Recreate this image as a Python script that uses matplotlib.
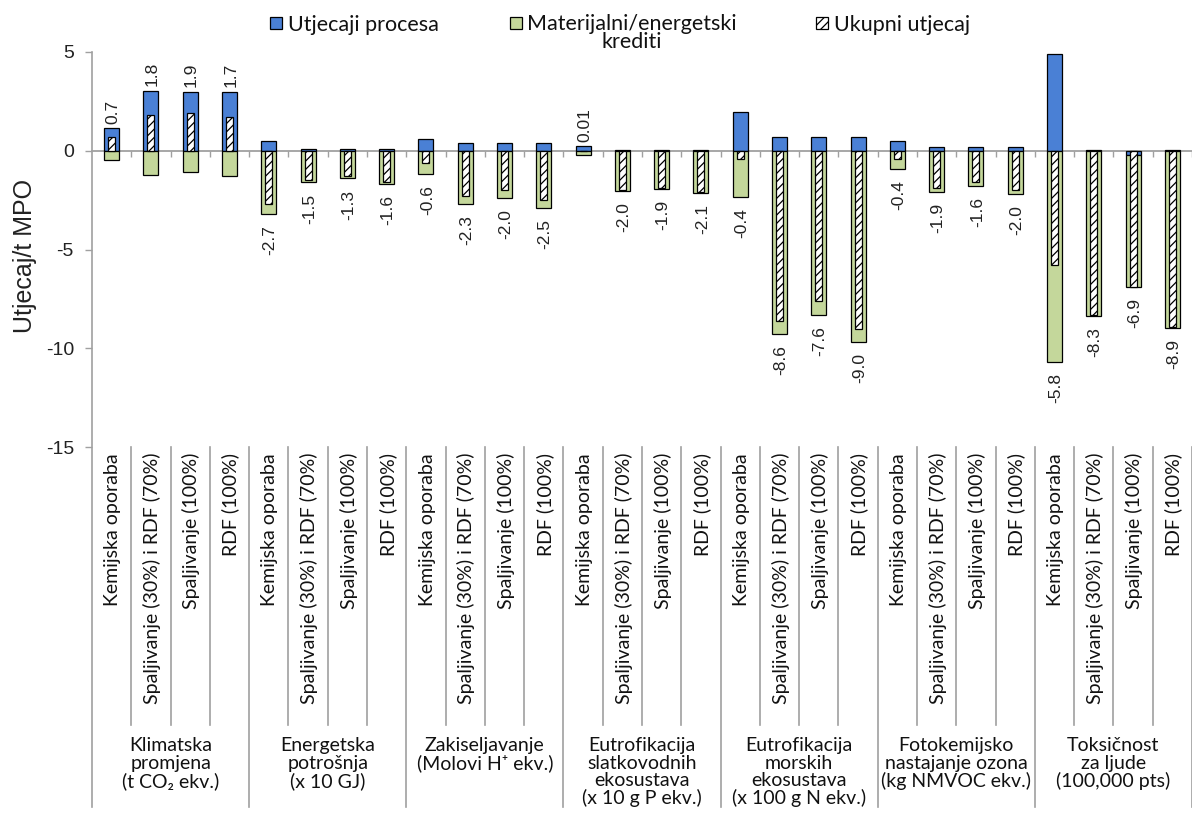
import numpy as np
import matplotlib
matplotlib.use("Agg")
import matplotlib.pyplot as plt
from matplotlib.patches import Rectangle
from matplotlib.lines import Line2D
import matplotlib.transforms as mtransforms

# ---------------- data ----------------
subcategories = ["Kemijska oporaba", "Spaljivanje (30%) i RDF (70%)",
                 "Spaljivanje (100%)", "RDF (100%)"]
groups = ["Klimatska\npromjena\n(t CO\u2082 ekv.)",
          "Energetska\npotrošnja\n(x 10 GJ)",
          "Zakiseljavanje\n(Molovi H\u207a ekv.)",
          "Eutrofikacija\nslatkovodnih\nekosustava\n(x 10 g P ekv.)",
          "Eutrofikacija\nmorskih\nekosustava\n(x 100 g N ekv.)",
          "Fotokemijsko\nnastajanje ozona\n(kg NMVOC ekv.)",
          "Toksičnost\nza ljude\n(100,000 pts)"]
process = [1.15, 3.05, 3.0, 3.0,
           0.5, 0.1, 0.1, 0.1,
           0.6, 0.4, 0.4, 0.4,
           0.22, 0.05, 0.05, 0.05,
           1.95, 0.7, 0.7, 0.7,
           0.5, 0.2, 0.2, 0.2,
           4.9, 0.05, -0.2, 0.05]
credits = [-0.45, -1.25, -1.1, -1.3,
           -3.2, -1.6, -1.4, -1.7,
           -1.2, -2.7, -2.4, -2.9,
           -0.21, -2.05, -1.95, -2.15,
           -2.35, -9.3, -8.3, -9.7,
           -0.9, -2.1, -1.8, -2.2,
           -10.7, -8.35, -6.7, -8.95]
legend_labels = ["Utjecaji procesa", "Materijalni/energetski\nkrediti", "Ukupni utjecaj"]
y_label = "Utjecaj/t MPO"
y_ticks = [-15, -10, -5, 0, 5]

# ---------------- style ----------------
BLUE = "#4A80D5"
GREEN = "#C4D79B"
GRAY = "#A0A0A0"
CAT_FONT = ["Lato", "DejaVu Sans"]
NUM_FONT = ["Liberation Sans", "DejaVu Sans"]
plt.rcParams["hatch.linewidth"] = 0.9

W, H = 1192, 814
fig = plt.figure(figsize=(W / 100, H / 100), dpi=100)
slot = 39.45
ax = fig.add_axes([92 / W, (H - 447) / H, 1100 / W, 395 / H])
ax.set_xlim(-0.5, -0.5 + 1100 / slot)
ax.set_ylim(-15, 5)

p = np.array(process)
c = np.array(credits)
totals = np.round(p + c, 2)
x = np.arange(len(p))

credit_bottom = np.where(p < 0, p, 0.0)
ax.bar(x, p, width=0.38, color=BLUE, edgecolor="black", linewidth=0.9, zorder=3)
ax.bar(x, c, width=0.38, bottom=credit_bottom, color=GREEN, edgecolor="black",
       linewidth=0.9, zorder=3)
ax.bar(x, totals, width=0.18, color="white", edgecolor="black", hatch="////",
       linewidth=0.9, zorder=4)

top_end = np.maximum(p, 0)
bot_end = np.minimum(p, 0) + c
for xi, t, te, be in zip(x, totals, top_end, bot_end):
    txt = f"{t:.2f}" if abs(t) < 0.05 else f"{t:.1f}"
    if t >= 0:
        ax.annotate(txt, (xi, te), xytext=(1, 3), textcoords="offset points",
                    rotation=90, ha="center", va="bottom", fontsize=12.5,
                    family=NUM_FONT, color="#222222", zorder=5)
    else:
        ax.annotate(txt, (xi, be), xytext=(1, -8), textcoords="offset points",
                    rotation=90, ha="center", va="top", fontsize=12.5,
                    family=NUM_FONT, color="#222222", zorder=5)

# axes styling
for s in ["top", "right", "left"]:
    ax.spines[s].set_visible(False)
ax.spines["bottom"].set_position(("data", 0))
ax.spines["bottom"].set_color(GRAY)
ax.spines["bottom"].set_linewidth(1.3)
ax.spines["bottom"].set_zorder(2)
ax.set_xticks(np.arange(0.5, len(p), 1))
ax.set_xticklabels([])
ax.tick_params(axis="x", direction="out", length=4.5, width=1, color=GRAY)
ax.set_yticks(y_ticks)
ax.set_yticklabels([str(v) for v in y_ticks], family=NUM_FONT, fontsize=14,
                   color="#222222")
ax.tick_params(axis="y", direction="out", length=5, width=1, color=GRAY, pad=8)

# y axis line extended down through the category area
ax.add_line(Line2D([0, 0], [1, -0.911], transform=ax.transAxes, color=GRAY,
                   linewidth=1.2, clip_on=False))

blend = mtransforms.blended_transform_factory(ax.transData, ax.transAxes)
n = len(p)
for i in range(1, n + 1):
    b = i - 0.5
    y1 = -0.911 if i % 4 == 0 else -0.704
    ax.add_line(Line2D([b, b], [0, y1], transform=blend, color=GRAY,
                       linewidth=1.2, clip_on=False))

for i in range(n):
    ax.text(i + 0.03, -0.015, subcategories[i % 4], transform=blend, rotation=90,
            ha="center", va="top", fontsize=14, family=CAT_FONT, color="#111111")

for g, name in enumerate(groups):
    ax.text(g * 4 + 1.5, -0.735, name, transform=blend, ha="center", va="top",
            multialignment="center", fontsize=14, linespacing=1.02,
            family=CAT_FONT, color="#111111")

fig.text(25 / W, 1 - 256 / H, y_label, rotation=90, ha="center", va="center",
         fontsize=18, family=NUM_FONT, color="#222222")

# legend (manual, top)
legend_styles = [dict(facecolor=BLUE), dict(facecolor=GREEN),
                 dict(facecolor="white", hatch="////")]
sq_x = [270, 510, 816]
txt_x = [288, 527, 834]
base_y = [31, 48, 31]
for sx, tx, by, lab, st in zip(sq_x, txt_x, base_y, legend_labels, legend_styles):
    fig.patches.append(Rectangle((sx / W, 1 - 29 / H), 12 / W, 12 / H,
                                 transform=fig.transFigure, edgecolor="black",
                                 linewidth=0.9, **st))
    fig.text(tx / W, 1 - by / H, lab, ha="left", va="baseline",
             multialignment="center", fontsize=15.5, linespacing=0.85,
             family=CAT_FONT, color="#111111")

fig.savefig("out.png", dpi=100)
